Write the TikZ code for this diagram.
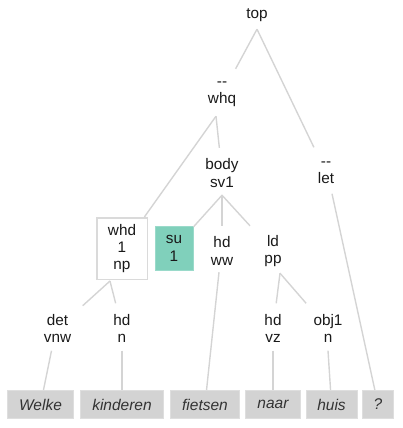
\documentclass[tikz,border=0pt]{standalone}
\usepackage{fontspec}
\setmainfont{Liberation Sans}
\definecolor{tealbox}{HTML}{80D0BB}
\definecolor{tealborder}{HTML}{9ADACA}
\definecolor{leafgray}{HTML}{D3D3D3}
\definecolor{leafborder}{HTML}{DEDEDE}
\definecolor{edgegray}{HTML}{D4D4D4}
\definecolor{boxborder}{HTML}{DADADA}
\begin{document}
\begin{tikzpicture}[x=1pt,y=-1pt,
  lab/.style={align=center, inner sep=0pt, minimum width=50pt, minimum height=50pt,
    font=\fontsize{15.3}{17.3}\selectfont, text=black!90},
  whdbox/.style={align=center, inner sep=0pt, minimum width=50.5pt, minimum height=61.5pt,
    draw=boxborder, line width=1.5pt, fill=white, font=\fontsize{15.3}{17.3}\selectfont, text=black!90},
  subox/.style={align=center, inner sep=0pt, minimum width=38pt, minimum height=44pt,
    draw=tealborder, line width=1pt, fill=tealbox, font=\fontsize{15.3}{17.3}\selectfont, text=black!90},
  leaf/.style={inner sep=0pt, minimum height=28pt, draw=leafborder, line width=1pt, fill=leafgray,
    font=\fontsize{15.5}{17.3}\selectfont\itshape, text=black!80},
  edge/.style={draw=edgegray, line width=1.4pt},
]
\useasboundingbox (0,0) rectangle (402,428);
% internal nodes
\node[lab, minimum height=34pt] (top) at (257,15.5) {top};
\node[lab] (whq) at (222,94) {-{}-\\whq};
\node[lab] (body) at (222,173) {body\\sv1};
\node[lab] (let) at (326,172.5) {-{}-\\let};
\node[whdbox] (whd) at (122,248.5) {\vphantom{y}whd\\1\\np};
\node[subox] (su) at (174,248.5) {\vphantom{y}su\\1};
\node[lab] (hdww) at (222,251) {hd\\ww};
\node[lab] (ldpp) at (273,251) {ld\\pp};
\node[lab] (det) at (57.5,328.5) {det\\vnw};
\node[lab] (hdn) at (122,328.5) {hd\\n};
\node[lab] (hdvz) at (273,328.5) {hd\\vz};
\node[lab] (obj) at (328,328.5) {obj1\\n};
% leaves
\node[leaf, minimum width=66.5pt] (welke) at (40.5,404.5) {Welke};
\node[leaf, minimum width=83pt] (kinderen) at (122,404.5) {kinderen};
\node[leaf, minimum width=69pt] (fietsen) at (205,404.5) {fietsen};
\node[leaf, minimum width=55pt] (naar) at (273,404.5) {naar};
\node[leaf, minimum width=51pt] (huis) at (331.5,404.5) {huis};
\node[leaf, minimum width=31pt] (q) at (378,404.5) {?};
% edges
\draw[edge] ([yshift=3.5pt]top.south) -- (whq);
\draw[edge] ([yshift=3.5pt]top.south) -- (let);
\draw[edge] ([xshift=-6pt,yshift=3pt]whq.south) -- (whd);
\draw[edge] ([xshift=-6pt,yshift=3pt]whq.south) -- (body);
\draw[edge] ([xshift=6pt,yshift=4pt]let.south) -- (q);
\draw[edge] ([yshift=3pt]body.south) -- (su);
\draw[edge] ([yshift=3pt]body.south) -- (hdww);
\draw[edge] ([yshift=3pt]body.south) -- (ldpp);
\draw[edge] ([xshift=-12pt,yshift=-1pt]whd.south) -- (det);
\draw[edge] ([xshift=-12pt,yshift=-1pt]whd.south) -- (hdn);
\draw[edge] ([xshift=7pt,yshift=3pt]ldpp.south) -- (hdvz);
\draw[edge] ([xshift=7pt,yshift=3pt]ldpp.south) -- (obj);
\draw[edge] ([xshift=-3pt,yshift=4pt]hdww.south) -- (fietsen);
\draw[edge] ([xshift=-6pt,yshift=3pt]det.south) -- (welke);
\draw[edge] ([yshift=3pt]hdn.south) -- (kinderen);
\draw[edge] ([yshift=3pt]hdvz.south) -- (naar);
\draw[edge] ([yshift=3pt]obj.south) -- (huis);
\end{tikzpicture}
\end{document}
